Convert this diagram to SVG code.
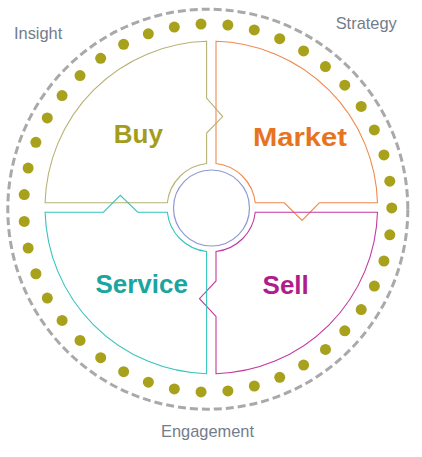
<svg xmlns="http://www.w3.org/2000/svg" width="422" height="457" viewBox="0 0 422 457">
<style>
.quad{fill:none;stroke-width:1.1;stroke-linejoin:miter}
.big{font-family:"Liberation Sans",Arial,sans-serif;font-weight:bold;font-size:26px;text-anchor:middle}
.small{font-family:"Liberation Sans",Arial,sans-serif;font-size:16.4px;fill:#737c8c}
.dot{fill:#a7a11c}
</style>
<rect width="422" height="457" fill="#ffffff"/>
<g id="outer-ring">
<circle cx="207.8" cy="209.2" r="200" fill="none" stroke="#a9a9a9" stroke-width="3" stroke-dasharray="8 4"/>
</g>
<g id="dots">
<circle class="dot" r="5.5" cx="201.01" cy="24.12"/>
<circle class="dot" r="5.5" cx="227.85" cy="25.10"/>
<circle class="dot" r="5.5" cx="254.27" cy="29.98"/>
<circle class="dot" r="5.5" cx="279.69" cy="38.64"/>
<circle class="dot" r="5.5" cx="303.58" cy="50.92"/>
<circle class="dot" r="5.5" cx="325.44" cy="66.56"/>
<circle class="dot" r="5.5" cx="344.76" cy="85.18"/>
<circle class="dot" r="5.5" cx="361.19" cy="106.44"/>
<circle class="dot" r="5.5" cx="374.34" cy="129.88"/>
<circle class="dot" r="5.5" cx="383.94" cy="154.97"/>
<circle class="dot" r="5.5" cx="389.78" cy="181.19"/>
<circle class="dot" r="5.5" cx="391.75" cy="207.98"/>
<circle class="dot" r="5.5" cx="389.79" cy="234.77"/>
<circle class="dot" r="5.5" cx="383.95" cy="260.99"/>
<circle class="dot" r="5.5" cx="374.36" cy="286.08"/>
<circle class="dot" r="5.5" cx="361.21" cy="309.52"/>
<circle class="dot" r="5.5" cx="344.79" cy="330.78"/>
<circle class="dot" r="5.5" cx="325.48" cy="349.41"/>
<circle class="dot" r="5.5" cx="303.62" cy="365.05"/>
<circle class="dot" r="5.5" cx="279.73" cy="377.34"/>
<circle class="dot" r="5.5" cx="254.31" cy="386.01"/>
<circle class="dot" r="5.5" cx="227.90" cy="390.89"/>
<circle class="dot" r="5.5" cx="201.05" cy="391.88"/>
<circle class="dot" r="5.5" cx="174.35" cy="388.94"/>
<circle class="dot" r="5.5" cx="148.36" cy="382.15"/>
<circle class="dot" r="5.5" cx="123.64" cy="371.65"/>
<circle class="dot" r="5.5" cx="100.70" cy="357.66"/>
<circle class="dot" r="5.5" cx="80.04" cy="340.46"/>
<circle class="dot" r="5.5" cx="62.10" cy="320.44"/>
<circle class="dot" r="5.5" cx="47.31" cy="298.06"/>
<circle class="dot" r="5.5" cx="35.90" cy="273.75"/>
<circle class="dot" r="5.5" cx="28.16" cy="248.03"/>
<circle class="dot" r="5.5" cx="24.24" cy="221.46"/>
<circle class="dot" r="5.5" cx="24.24" cy="194.59"/>
<circle class="dot" r="5.5" cx="28.15" cy="168.02"/>
<circle class="dot" r="5.5" cx="35.88" cy="142.29"/>
<circle class="dot" r="5.5" cx="47.28" cy="117.98"/>
<circle class="dot" r="5.5" cx="62.07" cy="95.60"/>
<circle class="dot" r="5.5" cx="80.01" cy="75.57"/>
<circle class="dot" r="5.5" cx="100.67" cy="58.37"/>
<circle class="dot" r="5.5" cx="123.60" cy="44.37"/>
<circle class="dot" r="5.5" cx="148.32" cy="33.86"/>
<circle class="dot" r="5.5" cx="174.31" cy="27.06"/>
</g>
<g id="market">
<path class="quad" stroke="#ef8a4e" d="M216 41.3 L216 163.55 A44.2 44.2 0 0 1 255.25 202.8 L284.3 202.8 L302 220.5 L319.3 202.8 L377.5 202.8 A166.3 166.3 0 0 0 216 41.3 Z"/>
<text class="big" fill="#e8731f" x="299.9" y="145.7" textLength="94" lengthAdjust="spacingAndGlyphs">Market</text>
</g>
<g id="sell">
<path class="quad" stroke="#c23a9f" d="M216 251.45 A44.2 44.2 0 0 0 255.25 212.2 L377.5 212.2 A166.3 166.3 0 0 1 216 373.7 L216 316.5 L199.5 298.7 L216 281 Z"/>
<text class="big" fill="#b01c8a" x="285.7" y="293.7">Sell</text>
</g>
<g id="buy">
<path class="quad" stroke="#b7b274" d="M206.6 41.3 L206.6 98 L222.7 116.6 L206.6 133 L206.6 163.55 A44.2 44.2 0 0 0 167.35 202.8 L45.1 202.8 A166.3 166.3 0 0 1 206.6 41.3 Z"/>
<text class="big" fill="#a39d1b" x="138.3" y="142.7">Buy</text>
</g>
<g id="service">
<path class="quad" stroke="#36c4bd" d="M45.1 212.2 L103.5 212.2 L120.3 195.3 L137.7 212.2 L167.35 212.2 A44.2 44.2 0 0 0 206.6 251.45 L206.6 373.7 A166.3 166.3 0 0 1 45.1 212.2 Z"/>
<text class="big" fill="#1aa59f" x="141.7" y="293">Service</text>
</g>
<g id="hub">
<circle cx="211.5" cy="208" r="38" fill="none" stroke="#8e97d3" stroke-width="1.2"/>
</g>
<g id="labels">
<text class="small" x="14" y="39">Insight</text>
<text class="small" x="335.7" y="29">Strategy</text>
<text class="small" x="161" y="436.7">Engagement</text>
</g>
<g id="connectors"></g>
</svg>
